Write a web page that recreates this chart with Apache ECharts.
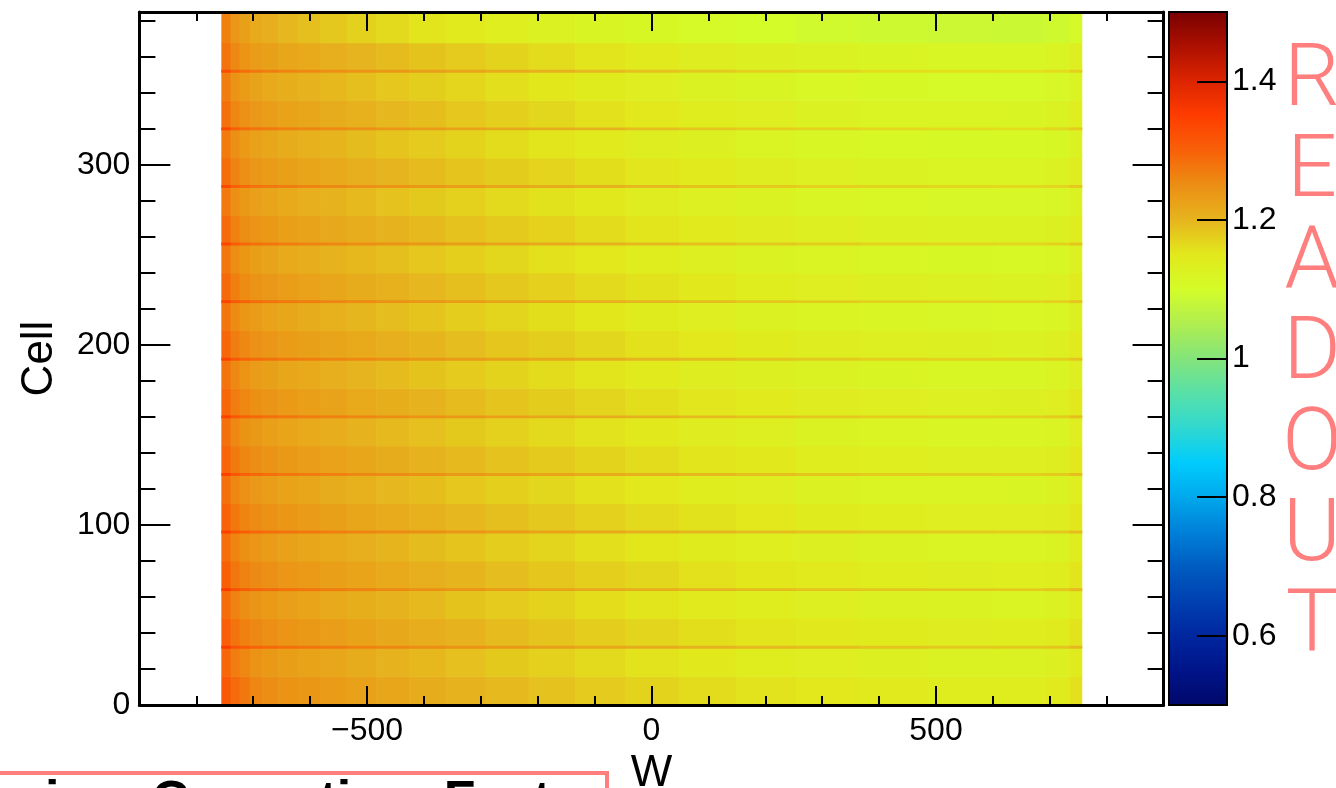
<!DOCTYPE html>
<html><head><meta charset="utf-8">
<script src="https://cdn.jsdelivr.net/npm/echarts@6/dist/echarts.min.js"></script>
<style>html,body{margin:0;padding:0;background:#fff}#c{width:1336px;height:788px}</style>
</head><body><div id="c"></div>
<script>
// ---- data ----
const wEdges = [-756,-740,-724,-706,-684,-656,-622,-582,-536,-484,-426,-362,-292,-216,-134,-46,48,148,254,366,484,600,690,735,756];
const xMajorTicks = [-500, 0, 500];
const yMajorTicks = [0, 100, 200, 300];
const zTicks = [0.6, 0.8, 1, 1.2, 1.4];
const blockStarts = [0,32,64,96,128,160,192,224,256,288,320,352];
const cellMax = 384;
const paletteColors = ['#00086a','#001488','#00269e','#0040b0','#005cc0','#0080d8','#00a8ec','#00ccfc','#30d8d0','#58e0a8','#84e47a','#b0ee50','#d4fc28','#e2e81c','#e6b41e','#ec8e14','#f86008','#ff3c00','#dc2400','#ac1000','#780000'];
// lower half of each 32-cell block (cells 32k .. 32k+16)
const lowerBand = [
[1.312,1.288,1.275,1.258,1.251,1.244,1.238,1.232,1.225,1.218,1.211,1.203,1.195,1.187,1.178,1.170,1.162,1.155,1.149,1.144,1.141,1.140,1.145,1.157],
[1.302,1.278,1.265,1.256,1.249,1.242,1.236,1.230,1.223,1.216,1.209,1.201,1.193,1.185,1.176,1.168,1.160,1.153,1.147,1.142,1.139,1.138,1.143,1.155],
[1.300,1.276,1.263,1.254,1.247,1.240,1.234,1.228,1.221,1.214,1.207,1.199,1.191,1.183,1.174,1.166,1.158,1.151,1.145,1.140,1.137,1.136,1.141,1.153],
[1.298,1.274,1.261,1.252,1.245,1.238,1.232,1.226,1.219,1.212,1.205,1.197,1.189,1.181,1.172,1.164,1.156,1.149,1.143,1.138,1.135,1.134,1.139,1.151],
[1.296,1.272,1.259,1.250,1.243,1.236,1.230,1.224,1.217,1.210,1.203,1.195,1.187,1.179,1.170,1.162,1.154,1.147,1.141,1.136,1.133,1.132,1.137,1.149],
[1.294,1.270,1.257,1.248,1.241,1.234,1.228,1.222,1.215,1.208,1.201,1.193,1.185,1.177,1.168,1.160,1.152,1.145,1.139,1.134,1.131,1.130,1.135,1.147],
[1.292,1.268,1.255,1.246,1.239,1.232,1.226,1.220,1.213,1.206,1.199,1.191,1.183,1.175,1.166,1.158,1.150,1.143,1.137,1.132,1.129,1.128,1.133,1.145],
[1.290,1.266,1.253,1.244,1.237,1.230,1.224,1.218,1.211,1.204,1.197,1.189,1.181,1.173,1.164,1.156,1.148,1.141,1.135,1.130,1.127,1.126,1.131,1.143],
[1.288,1.264,1.251,1.242,1.235,1.228,1.222,1.216,1.209,1.202,1.195,1.187,1.179,1.171,1.162,1.154,1.146,1.139,1.133,1.128,1.125,1.124,1.129,1.141],
[1.286,1.262,1.249,1.240,1.233,1.226,1.220,1.214,1.207,1.200,1.193,1.185,1.177,1.169,1.160,1.152,1.144,1.137,1.131,1.126,1.123,1.122,1.127,1.139],
[1.283,1.259,1.246,1.237,1.230,1.223,1.217,1.211,1.204,1.197,1.190,1.182,1.174,1.166,1.157,1.149,1.141,1.134,1.128,1.123,1.120,1.119,1.124,1.136],
[1.279,1.255,1.242,1.233,1.226,1.219,1.213,1.207,1.200,1.193,1.186,1.178,1.170,1.162,1.153,1.145,1.137,1.130,1.124,1.119,1.116,1.115,1.120,1.132]
];
// upper half of each block (cells 32k+16 .. 32k+32)
const upperBand = [
[1.294,1.270,1.257,1.243,1.236,1.229,1.223,1.217,1.210,1.203,1.196,1.188,1.180,1.172,1.163,1.155,1.147,1.140,1.134,1.129,1.126,1.125,1.130,1.142],
[1.287,1.263,1.250,1.241,1.234,1.227,1.221,1.215,1.208,1.201,1.194,1.186,1.178,1.170,1.161,1.153,1.145,1.138,1.132,1.127,1.124,1.123,1.128,1.140],
[1.285,1.261,1.248,1.239,1.232,1.225,1.219,1.213,1.206,1.199,1.192,1.184,1.176,1.168,1.159,1.151,1.143,1.136,1.130,1.125,1.122,1.121,1.126,1.138],
[1.283,1.259,1.246,1.237,1.230,1.223,1.217,1.211,1.204,1.197,1.190,1.182,1.174,1.166,1.157,1.149,1.141,1.134,1.128,1.123,1.120,1.119,1.124,1.136],
[1.281,1.257,1.244,1.235,1.228,1.221,1.215,1.209,1.202,1.195,1.188,1.180,1.172,1.164,1.155,1.147,1.139,1.132,1.126,1.121,1.118,1.117,1.122,1.134],
[1.279,1.255,1.242,1.233,1.226,1.219,1.213,1.207,1.200,1.193,1.186,1.178,1.170,1.162,1.153,1.145,1.137,1.130,1.124,1.119,1.116,1.115,1.120,1.132],
[1.277,1.253,1.240,1.231,1.224,1.217,1.211,1.205,1.198,1.191,1.184,1.176,1.168,1.160,1.151,1.143,1.135,1.128,1.122,1.117,1.114,1.113,1.118,1.130],
[1.275,1.251,1.238,1.229,1.222,1.215,1.209,1.203,1.196,1.189,1.182,1.174,1.166,1.158,1.149,1.141,1.133,1.126,1.120,1.115,1.112,1.111,1.116,1.128],
[1.273,1.249,1.236,1.227,1.220,1.213,1.207,1.201,1.194,1.187,1.180,1.172,1.164,1.156,1.147,1.139,1.131,1.124,1.118,1.113,1.110,1.109,1.114,1.126],
[1.271,1.247,1.234,1.225,1.218,1.211,1.205,1.199,1.192,1.185,1.178,1.170,1.162,1.154,1.145,1.137,1.129,1.122,1.116,1.111,1.108,1.107,1.112,1.124],
[1.268,1.244,1.231,1.222,1.215,1.208,1.202,1.196,1.189,1.182,1.175,1.167,1.159,1.151,1.142,1.134,1.126,1.119,1.113,1.108,1.105,1.104,1.109,1.121],
[1.265,1.240,1.226,1.215,1.206,1.197,1.189,1.181,1.172,1.163,1.154,1.145,1.136,1.127,1.119,1.112,1.105,1.099,1.094,1.090,1.087,1.086,1.091,1.105]
];
// thin boundary lines at cells 32, 64, ... 352
const lineBand = [
[1.352,1.320,1.307,1.298,1.291,1.284,1.278,1.272,1.265,1.258,1.251,1.243,1.235,1.227,1.218,1.210,1.202,1.195,1.189,1.184,1.181,1.180,1.185,1.197],
[1.350,1.318,1.305,1.296,1.289,1.282,1.276,1.270,1.263,1.256,1.249,1.241,1.233,1.225,1.216,1.208,1.200,1.193,1.187,1.182,1.179,1.178,1.183,1.195],
[1.348,1.316,1.303,1.294,1.287,1.280,1.274,1.268,1.261,1.254,1.247,1.239,1.231,1.223,1.214,1.206,1.198,1.191,1.185,1.180,1.177,1.176,1.181,1.193],
[1.346,1.314,1.301,1.292,1.285,1.278,1.272,1.266,1.259,1.252,1.245,1.237,1.229,1.221,1.212,1.204,1.196,1.189,1.183,1.178,1.175,1.174,1.179,1.191],
[1.344,1.312,1.299,1.290,1.283,1.276,1.270,1.264,1.257,1.250,1.243,1.235,1.227,1.219,1.210,1.202,1.194,1.187,1.181,1.176,1.173,1.172,1.177,1.189],
[1.342,1.310,1.297,1.288,1.281,1.274,1.268,1.262,1.255,1.248,1.241,1.233,1.225,1.217,1.208,1.200,1.192,1.185,1.179,1.174,1.171,1.170,1.175,1.187],
[1.340,1.308,1.295,1.286,1.279,1.272,1.266,1.260,1.253,1.246,1.239,1.231,1.223,1.215,1.206,1.198,1.190,1.183,1.177,1.172,1.169,1.168,1.173,1.185],
[1.338,1.306,1.293,1.284,1.277,1.270,1.264,1.258,1.251,1.244,1.237,1.229,1.221,1.213,1.204,1.196,1.188,1.181,1.175,1.170,1.167,1.166,1.171,1.183],
[1.336,1.304,1.291,1.282,1.275,1.268,1.262,1.256,1.249,1.242,1.235,1.227,1.219,1.211,1.202,1.194,1.186,1.179,1.173,1.168,1.165,1.164,1.169,1.181],
[1.333,1.301,1.288,1.279,1.272,1.265,1.259,1.253,1.246,1.239,1.232,1.224,1.216,1.208,1.199,1.191,1.183,1.176,1.170,1.165,1.162,1.161,1.166,1.178],
[1.329,1.297,1.284,1.275,1.268,1.261,1.255,1.249,1.242,1.235,1.228,1.220,1.212,1.204,1.195,1.187,1.179,1.172,1.166,1.161,1.158,1.157,1.162,1.174]
];

// ---- build cells ----
const cells = [];
function addRow(c0, c1, vals) {
  for (let i = 0; i < vals.length; i++) cells.push([wEdges[i], wEdges[i + 1], c0, c1, vals[i]]);
}
const lastBlock = blockStarts.length - 1;
blockStarts.forEach((s, k) => {
  const top = k === lastBlock ? cellMax : blockStarts[k + 1];
  addRow(s, s + 16, lowerBand[k]);
  addRow(s + 16, top, upperBand[k]);
});
blockStarts.slice(1).forEach((s, k) => addRow(s - 0.4, s + 0.9, lineBand[k]));

const FONT = 'Liberation Sans';
const tickStyle = { color: '#000', width: 2 };
const labelStyle = { color: '#000', fontSize: 32, fontFamily: FONT };
const minus = v => (v < 0 ? '\u2212' + Math.abs(v) : String(v));
const frameLine = { onZero: false, lineStyle: { color: '#000', width: 3 } };
const noLine = { show: false, onZero: false };

const chart = echarts.init(document.getElementById('c'), null, { renderer: 'canvas' });
chart.setOption({
  animation: false,
  backgroundColor: '#fff',
  grid: [
    { left: 139.4, right: 172.4, top: 12, bottom: 83, outerBoundsMode: 'none', containLabel: false },
    { left: 1169, width: 58, top: 12, bottom: 83, outerBoundsMode: 'none', containLabel: false }
  ],
  xAxis: [
    { gridIndex: 0, type: 'value', position: 'bottom', min: -900, max: 900, interval: 100, z: 10,
      axisLine: frameLine, axisTick: { inside: true, length: 9, lineStyle: tickStyle },
      axisLabel: { show: false }, splitLine: { show: false } },
    { gridIndex: 0, type: 'value', position: 'bottom', min: -900, max: 900, interval: 100, z: 10,
      axisLine: noLine,
      axisTick: { inside: true, length: 19, lineStyle: tickStyle, customValues: xMajorTicks },
      axisLabel: Object.assign({ margin: 10, customValues: xMajorTicks, formatter: minus }, labelStyle),
      splitLine: { show: false },
      name: 'W', nameLocation: 'middle', nameGap: 44,
      nameTextStyle: { color: '#000', fontSize: 44, fontFamily: FONT, verticalAlign: 'top' } },
    { gridIndex: 0, type: 'value', position: 'top', min: -900, max: 900, interval: 100, z: 10,
      axisLine: frameLine, axisTick: { inside: true, length: 9, lineStyle: tickStyle },
      axisLabel: { show: false }, splitLine: { show: false } },
    { gridIndex: 0, type: 'value', position: 'top', min: -900, max: 900, interval: 100, z: 10,
      axisLine: noLine,
      axisTick: { inside: true, length: 19, lineStyle: tickStyle, customValues: xMajorTicks },
      axisLabel: { show: false }, splitLine: { show: false } },
    { gridIndex: 1, type: 'value', min: 0, max: 1, show: false }
  ],
  yAxis: [
    { gridIndex: 0, type: 'value', position: 'left', min: 0, max: 385, interval: 20, z: 10,
      axisLine: frameLine, axisTick: { inside: true, length: 16, lineStyle: tickStyle },
      axisLabel: { show: false }, splitLine: { show: false } },
    { gridIndex: 0, type: 'value', position: 'left', min: 0, max: 385, interval: 20, z: 10,
      axisLine: noLine,
      axisTick: { inside: true, length: 31, lineStyle: tickStyle, customValues: yMajorTicks },
      axisLabel: Object.assign({ margin: 9, customValues: yMajorTicks }, labelStyle),
      splitLine: { show: false },
      name: 'Cell', nameLocation: 'middle', nameGap: 78, nameRotate: 90,
      nameTextStyle: { color: '#000', fontSize: 44, fontFamily: FONT } },
    { gridIndex: 0, type: 'value', position: 'right', min: 0, max: 385, interval: 20, z: 10,
      axisLine: frameLine, axisTick: { inside: true, length: 16, lineStyle: tickStyle },
      axisLabel: { show: false }, splitLine: { show: false } },
    { gridIndex: 0, type: 'value', position: 'right', min: 0, max: 385, interval: 20, z: 10,
      axisLine: noLine,
      axisTick: { inside: true, length: 31, lineStyle: tickStyle, customValues: yMajorTicks },
      axisLabel: { show: false }, splitLine: { show: false } },
    { gridIndex: 1, type: 'value', position: 'right', min: 0.5, max: 1.5, z: 10,
      axisLine: noLine,
      axisTick: { inside: true, length: 30, lineStyle: tickStyle, customValues: zTicks },
      axisLabel: Object.assign({ margin: 5, customValues: zTicks, formatter: v => String(+v.toFixed(1)) }, labelStyle),
      splitLine: { show: false } }
  ],
  visualMap: {
    type: 'continuous', show: false, min: 0.5, max: 1.5, dimension: 4, seriesIndex: 0,
    inRange: { color: paletteColors }
  },
  series: [
    {
      type: 'custom', xAxisIndex: 0, yAxisIndex: 0,
      dimensions: ['w0', 'w1', 'c0', 'c1', 'v'],
      encode: { x: [0, 1], y: [2, 3] },
      data: cells,
      renderItem: function (params, api) {
        const a = api.coord([api.value(0), api.value(2)]);
        const b = api.coord([api.value(1), api.value(3)]);
        return { type: 'rect', shape: { x: a[0], y: b[1], width: b[0] - a[0] + 0.6, height: a[1] - b[1] + 0.6 },
          style: { fill: api.visual('color') } };
      }
    },
    {
      type: 'custom', xAxisIndex: 4, yAxisIndex: 4, clip: false,
      data: [[0, 0.5, 1, 1.5]],
      encode: { x: [0, 2], y: [1, 3] },
      renderItem: function (params, api) {
        const a = api.coord([api.value(0), api.value(1)]);
        const b = api.coord([api.value(2), api.value(3)]);
        const stops = paletteColors.map((c, i) => ({ offset: i / (paletteColors.length - 1), color: c }));
        return { type: 'rect', shape: { x: a[0], y: b[1], width: b[0] - a[0], height: a[1] - b[1] },
          style: { fill: new echarts.graphic.LinearGradient(0, 1, 0, 0, stops), stroke: '#000', lineWidth: 2 } };
      }
    }
  ],
  graphic: [
    { type: 'rect', shape: { x: -10, y: 773, width: 617, height: 40 },
      style: { fill: 'rgba(0,0,0,0)', stroke: '#ff7f7f', lineWidth: 4 } },
    { type: 'text', x: 45, y: 777,
      style: { text: 'ion  Correction  Facto', fontSize: 52, fontWeight: 'bold', fontFamily: FONT, fill: '#000', verticalAlign: 'top' } },
    { type: 'text', x: 1312, y: 37,
      style: { text: 'R\nE\nA\nD\nO\nU\nT', fontSize: 88, fontWeight: 300, fontFamily: 'Roboto', fill: '#ff7f7f',
        align: 'center', verticalAlign: 'top', lineHeight: 91 } }
  ]
});
</script></body></html>
